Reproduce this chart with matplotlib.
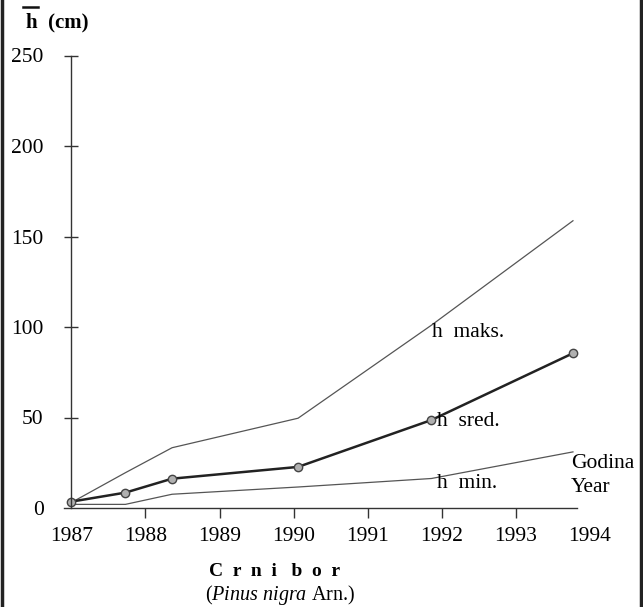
import matplotlib.pyplot as plt
from matplotlib.lines import Line2D

# Values
years = [1987.0, 1987.73, 1988.36, 1990.06, 1991.86, 1993.77]
h_maks = [3.0, 19.5, 33.3, 49.6, 101.0, 158.7]
h_sred = [3.5, 8.5, 16.2, 22.7, 48.6, 85.5]
h_min = [2.0, 2.0, 7.6, 11.6, 16.3, 31.0]

x_ticks = [1987, 1988, 1989, 1990, 1991, 1992, 1993, 1994]
y_ticks = [0, 50, 100, 150, 200, 250]

plt.rcParams['font.family'] = ['Liberation Serif', 'DejaVu Serif']
plt.rcParams['mathtext.fontset'] = 'custom'
plt.rcParams['mathtext.rm'] = 'Liberation Serif'
plt.rcParams['mathtext.it'] = 'Liberation Serif:italic'
plt.rcParams['mathtext.bf'] = 'Liberation Serif:bold'

W, H = 643, 607
fig = plt.figure(figsize=(W / 100, H / 100), dpi=100)

# axes placed so that 1987 -> x=71.3px, 74.1px per year; 0 -> y=508px, 1.81px per cm
x0, ppy = 71.3, 74.1
xmin, xmax = 1986.8, 1994.2
left = (x0 + (xmin - 1987) * ppy) / W
width = (xmax - xmin) * ppy / W
ax = fig.add_axes([left, (H - 508) / H, width, 452.5 / H])
ax.set_xlim(xmin, xmax)
ax.set_ylim(0, 250)

ink = '#333333'
fs = 15.5
ax.plot(years, h_maks, color='#555555', lw=0.9)
ax.plot(years, h_min, color='#555555', lw=0.9)
ax.plot(years, h_sred, color='#222222', lw=1.8, marker='o', ms=6,
        mfc='#b0b0b0', mec='#444444', mew=1.0)

for s in ['top', 'right']:
    ax.spines[s].set_visible(False)
ax.spines['left'].set_position(('data', 1987))
ax.spines['left'].set_bounds(0, 250)
ax.spines['bottom'].set_bounds(1986.9, 1993.82)
for s in ['left', 'bottom']:
    ax.spines[s].set_color(ink)
    ax.spines[s].set_linewidth(1.0)

ax.set_xticks(x_ticks)
ax.set_xticklabels([str(t) for t in x_ticks])
ax.set_yticks(y_ticks)
ax.tick_params(axis='x', direction='out', length=7, width=1, color=ink,
               pad=7, labelsize=fs)
ax.tick_params(axis='y', direction='inout', length=10, width=1, color=ink,
               pad=15, labelsize=fs)
xt = ax.xaxis.get_major_ticks()
xt[0].tick1line.set_visible(False)
xt[-1].tick1line.set_visible(False)
ax.yaxis.get_major_ticks()[0].tick1line.set_visible(False)

# series labels
ax.text(1991.87, 96.7, 'h  maks.', fontsize=fs, va='center', ha='left')
ax.text(1991.94, 48.0, 'h  sred.', fontsize=fs, va='center', ha='left')
ax.text(1991.94, 13.8, 'h  min.', fontsize=fs, va='center', ha='left')
ax.text(1993.74, 18.0, 'Godina\nYear', fontsize=fs, va='center', ha='left',
        linespacing=1.3)

# y label with bar over h
fig.text(26 / W, 1 - 22 / H, 'h  (cm)', fontsize=15, fontweight='bold',
         va='center', ha='left')
fig.add_artist(Line2D([22.7 / W, 38.3 / W], [1 - 6.5 / H, 1 - 6.5 / H],
                      color='#111111', lw=1.8))

# species caption
fig.text(209 / W, 1 - 571 / H, 'C  r  n  i   b  o  r', fontsize=14,
         fontweight='bold', va='center', ha='left')
fig.text(205 / W, 1 - 595 / H, r'($\mathit{Pinus\ nigra}$ Arn.)', fontsize=14.5,
         va='center', ha='left')

# page frame edges
fig.add_artist(Line2D([2 / W, 2 / W], [0, 1], color='#222222', lw=2.5))
fig.add_artist(Line2D([641 / W, 641 / W], [0, 1], color='#222222', lw=2.5))

fig.savefig('out.png', dpi=100)
